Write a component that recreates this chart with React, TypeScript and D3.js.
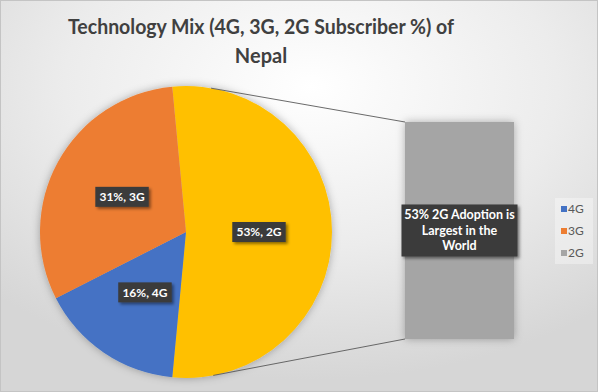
import React, { useEffect, useRef } from "react";
import * as d3 from "d3";

// data
const categories = ["4G", "3G", "2G"];
const shares = [16, 31, 53];
const pieColors = ["#4472C4", "#ED7D31", "#FFC000"]; // 2G shows as the "other" slice in the pie
const legendColors = ["#4472C4", "#ED7D31", "#A5A5A5"];
const titleLines = ["Technology Mix (4G, 3G, 2G Subscriber %) of", "Nepal"];
const calloutLines = ["53% 2G Adoption is", "Largest in the", "World"];

const W = 598;
const H = 392;
const FONT = "Lato, 'Open Sans', sans-serif";

const App = () => {
  const ref = useRef<SVGSVGElement | null>(null);

  useEffect(() => {
    const svg = d3.select(ref.current);
    svg.selectAll("*").remove();

    const defs = svg.append("defs");
    const bg = defs
      .append("radialGradient")
      .attr("id", "bg")
      .attr("cx", "0.52")
      .attr("cy", "0.22")
      .attr("r", "0.75");
    bg.append("stop").attr("offset", "0").attr("stop-color", "#ffffff");
    bg.append("stop").attr("offset", "0.55").attr("stop-color", "#ececec");
    bg.append("stop").attr("offset", "1").attr("stop-color", "#d6d6d6");

    const pieShadow = defs.append("filter").attr("id", "pieShadow")
      .attr("x", "-20%").attr("y", "-20%").attr("width", "140%").attr("height", "140%");
    pieShadow.append("feDropShadow")
      .attr("dx", 0).attr("dy", 0).attr("stdDeviation", 4)
      .attr("flood-color", "#000").attr("flood-opacity", 0.3);

    const boxShadow = defs.append("filter").attr("id", "boxShadow")
      .attr("x", "-20%").attr("y", "-30%").attr("width", "140%").attr("height", "160%");
    boxShadow.append("feDropShadow")
      .attr("dx", 2).attr("dy", 2).attr("stdDeviation", 1.5)
      .attr("flood-color", "#000").attr("flood-opacity", 0.45);

    svg.append("rect")
      .attr("x", 0.5).attr("y", 0.5)
      .attr("width", W - 1).attr("height", H - 1)
      .attr("fill", "url(#bg)")
      .attr("stroke", "#c4c4c4");

    // title
    const title = svg.append("text")
      .attr("text-anchor", "middle")
      .attr("font-family", FONT)
      .attr("font-weight", 700)
      .attr("font-size", 20)
      .attr("fill", "#404040");
    titleLines.forEach((line, i) => {
      const t = title.append("tspan")
        .attr("x", 261)
        .attr("y", 34 + i * 29)
        .text(line);
      if (i === 0) t.attr("textLength", 386).attr("lengthAdjust", "spacingAndGlyphs");
    });

    // pie
    const cx = 186;
    const cy = 232;
    const r = 146;
    const idx2G = categories.indexOf("2G");
    const order = [idx2G, ...categories.map((_, i) => i).filter((i) => i !== idx2G)];
    const start = Math.PI / 2 - (shares[idx2G] / 100) * Math.PI;
    const pie = d3.pie<number>()
      .sort(null)
      .value((i) => shares[i])
      .startAngle(start)
      .endAngle(start + 2 * Math.PI);
    const arcs = pie(order);
    const arc = d3.arc<d3.PieArcDatum<number>>().innerRadius(0).outerRadius(r);

    const pieG = svg.append("g").attr("transform", `translate(${cx},${cy})`);
    pieG.append("g")
      .attr("filter", "url(#pieShadow)")
      .selectAll("path")
      .data(arcs)
      .enter()
      .append("path")
      .attr("d", arc)
      .attr("fill", (d) => pieColors[d.data]);

    // secondary bar
    const barX = d3.scaleBand().domain(["2G"]).range([405, 514]).padding(0);
    const barY = d3.scaleLinear().domain([0, shares[idx2G]]).range([339, 122]);
    svg.append("rect")
      .attr("x", barX("2G")!)
      .attr("y", barY(shares[idx2G]))
      .attr("width", barX.bandwidth())
      .attr("height", barY(0) - barY(shares[idx2G]))
      .attr("fill", legendColors[idx2G])
      .attr("filter", "url(#pieShadow)");

    // connector lines, tangent from the bar corners to the pie
    const tangent = (px: number, py: number, upper: boolean) => {
      const dx = px - cx;
      const dy = py - cy;
      const d = Math.hypot(dx, dy);
      const base = Math.atan2(dy, dx);
      const off = Math.acos(r / d);
      const a = upper ? base - off : base + off;
      return [cx + r * Math.cos(a), cy + r * Math.sin(a)];
    };
    const corners: [number, number, boolean][] = [
      [barX("2G")!, barY(shares[idx2G]), true],
      [barX("2G")!, barY(0), false],
    ];
    corners.forEach(([px, py, up]) => {
      const [tx, ty] = tangent(px, py, up);
      svg.append("line")
        .attr("x1", tx).attr("y1", ty)
        .attr("x2", px).attr("y2", py)
        .attr("stroke", "#595959")
        .attr("stroke-width", 0.9);
    });

    // pie data labels
    arcs.forEach((d) => {
      const [lx, ly] = arc.centroid(d);
      const g = pieG.append("g");
      const txt = g.append("text")
        .attr("x", lx).attr("y", ly)
        .attr("dy", "0.35em")
        .attr("text-anchor", "middle")
        .attr("font-family", FONT)
        .attr("font-weight", 700)
        .attr("font-size", 12)
        .attr("fill", "#ffffff")
        .text(`${shares[d.data]}%, ${categories[d.data]}`);
      const bb = (txt.node() as SVGTextElement).getBBox();
      g.insert("rect", "text")
        .attr("x", lx - bb.width / 2 - 4)
        .attr("y", ly - 10)
        .attr("width", bb.width + 8)
        .attr("height", 20)
        .attr("fill", "#3b3b3b")
        .attr("filter", "url(#boxShadow)");
    });

    // callout on the bar
    const mx = barX("2G")! + barX.bandwidth() / 2;
    const my = (barY(0) + barY(shares[idx2G])) / 2;
    const cg = svg.append("g");
    cg.append("rect")
      .attr("x", mx - 58).attr("y", my - 26)
      .attr("width", 116).attr("height", 52)
      .attr("fill", "#3b3b3b")
      .attr("filter", "url(#boxShadow)");
    calloutLines.forEach((line, i) => {
      cg.append("text")
        .attr("x", mx)
        .attr("y", my - 15.5 + i * 15.5)
        .attr("dy", "0.35em")
        .attr("text-anchor", "middle")
        .attr("font-family", FONT)
        .attr("font-weight", 700)
        .attr("font-size", 12.5)
        .attr("fill", "#ffffff")
        .text(line);
    });

    // legend
    const lg = svg.append("g");
    lg.append("rect")
      .attr("x", 555).attr("y", 198)
      .attr("width", 38).attr("height", 66)
      .attr("fill", "#ffffff")
      .attr("opacity", 0.35);
    categories.forEach((c, i) => {
      const y = 209 + i * 22;
      lg.append("rect")
        .attr("x", 561).attr("y", y - 3)
        .attr("width", 6).attr("height", 6)
        .attr("fill", legendColors[i]);
      lg.append("text")
        .attr("x", 568).attr("y", y)
        .attr("dy", "0.35em")
        .attr("font-family", FONT)
        .attr("font-size", 12)
        .attr("fill", "#595959")
        .text(c);
    });
  }, []);

  return (
    <svg
      ref={ref}
      width={W}
      height={H}
      style={{ position: "absolute", left: 0, top: 0, display: "block" }}
    />
  );
};

export default App;
